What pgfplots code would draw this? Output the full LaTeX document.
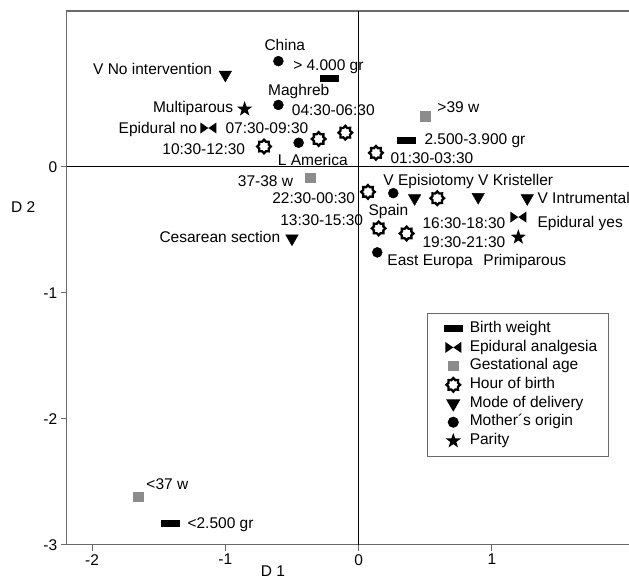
\documentclass[border=0pt]{standalone}
\usepackage{fontspec}
\setmainfont{Liberation Sans}
\usepackage{pgfplots}
\pgfplotsset{compat=1.18}
\definecolor{axgray}{HTML}{6A6A6A}
\definecolor{ptgray}{HTML}{8C8C8C}
\newcommand{\labfont}{\fontsize{15.5}{18}\selectfont}
\pgfdeclareplotmark{hrect}{\pgfpathrectangle{\pgfqpoint{-9.5pt}{-3.5pt}}{\pgfqpoint{19pt}{7pt}}\pgfusepathqfill}
\pgfdeclareplotmark{bowtie}{%
\pgfpathmoveto{\pgfqpoint{-8pt}{5.5pt}}\pgfpathlineto{\pgfqpoint{0pt}{0pt}}\pgfpathlineto{\pgfqpoint{-8pt}{-5.5pt}}\pgfpathclose
\pgfpathmoveto{\pgfqpoint{8pt}{5.5pt}}\pgfpathlineto{\pgfqpoint{0pt}{0pt}}\pgfpathlineto{\pgfqpoint{8pt}{-5.5pt}}\pgfpathclose
\pgfusepathqfill}
\pgfdeclareplotmark{gear}{%
\pgfpathmoveto{\pgfpointpolar{0}{6.8pt}}
\pgfpathlineto{\pgfpointpolar{22.5}{5.1pt}}
\pgfpathlineto{\pgfpointpolar{45}{6.8pt}}
\pgfpathlineto{\pgfpointpolar{67.5}{5.1pt}}
\pgfpathlineto{\pgfpointpolar{90}{6.8pt}}
\pgfpathlineto{\pgfpointpolar{112.5}{5.1pt}}
\pgfpathlineto{\pgfpointpolar{135}{6.8pt}}
\pgfpathlineto{\pgfpointpolar{157.5}{5.1pt}}
\pgfpathlineto{\pgfpointpolar{180}{6.8pt}}
\pgfpathlineto{\pgfpointpolar{202.5}{5.1pt}}
\pgfpathlineto{\pgfpointpolar{225}{6.8pt}}
\pgfpathlineto{\pgfpointpolar{247.5}{5.1pt}}
\pgfpathlineto{\pgfpointpolar{270}{6.8pt}}
\pgfpathlineto{\pgfpointpolar{292.5}{5.1pt}}
\pgfpathlineto{\pgfpointpolar{315}{6.8pt}}
\pgfpathlineto{\pgfpointpolar{337.5}{5.1pt}}
\pgfpathclose
\pgfusepathqfillstroke}
\pgfdeclareplotmark{fstar}{%
\pgfpathmoveto{\pgfpointpolar{90}{8pt}}
\pgfpathlineto{\pgfpointpolar{126}{3.2pt}}
\pgfpathlineto{\pgfpointpolar{162}{8pt}}
\pgfpathlineto{\pgfpointpolar{198}{3.2pt}}
\pgfpathlineto{\pgfpointpolar{234}{8pt}}
\pgfpathlineto{\pgfpointpolar{270}{3.2pt}}
\pgfpathlineto{\pgfpointpolar{306}{8pt}}
\pgfpathlineto{\pgfpointpolar{342}{3.2pt}}
\pgfpathlineto{\pgfpointpolar{18}{8pt}}
\pgfpathlineto{\pgfpointpolar{54}{3.2pt}}
\pgfpathclose
\pgfusepathqfill}
\begin{document}
\begin{tikzpicture}[lbl/.style={inner sep=0pt, text height=11pt, text depth=0pt, font=\labfont}]
\useasboundingbox (-66.7pt,-33.3pt) rectangle (562.3pt,544.7pt);
\begin{axis}[
  x=133.3pt, y=126pt,
  xmin=-2.19, xmax=2.06, ymin=-3, ymax=1.236,
  axis line style={axgray, line width=1.2pt},
  tick style={axgray, line width=1pt},
  tick align=outside, major tick length=6pt,
  xtick pos=bottom, ytick pos=left,
  xtick={-2,-1,0,1}, ytick={-3,-2,-1,0},
  /pgf/number format/assume math mode=true,
  ticklabel style={font=\labfont},
  xlabel={D 1}, ylabel={D 2},
  xlabel style={font=\labfont, at={(axis description cs:0.364,-0.049)}, anchor=center},
  ylabel style={font=\labfont, rotate=-90, at={(axis description cs:-0.077,0.633)}, anchor=center},
  clip=false,
  legend cell align=left,
  legend image code/.code={\path (-17pt,0pt) (13pt,0pt); \draw[#1] plot coordinates {(0pt,0pt)};},
  legend style={at={(axis cs:0.515,-1.161)}, anchor=north west, draw=axgray, line width=1pt,
    font=\labfont, row sep=2.2pt, column sep=0pt, inner xsep=8pt, inner ysep=7pt,
    nodes={font=\labfont, inner ysep=1pt, inner xsep=3pt, text height=11pt, text depth=3.5pt}},
]
\draw[black, line width=0.8pt] (axis cs:-2.19,0) -- (axis cs:2.06,0);
\draw[black, line width=0.8pt] (axis cs:0,-3) -- (axis cs:0,1.236);
% Birth weight
\addplot[only marks, mark=hrect, black] coordinates {(-0.22,0.70) (0.36,0.21) (-1.41,-2.83)};
\addlegendentry{Birth weight}
% Epidural analgesia
\addplot[only marks, mark=bowtie, black] coordinates {(-1.127,0.307) (1.198,-0.40)};
\addlegendentry{Epidural analgesia}
% Gestational age
\addplot[only marks, mark=square*, mark size=4.8pt, mark options={fill=ptgray, draw=ptgray, line width=0pt}] coordinates {(0.50,0.40) (-0.36,-0.09) (-1.65,-2.62)};
\addlegendentry{Gestational age}
% Hour of birth
\addplot[only marks, mark=gear, mark options={fill=white, draw=black, line width=2.3pt}] coordinates {(-0.71,0.16) (-0.30,0.22) (-0.10,0.27) (0.13,0.11) (0.07,-0.20) (0.59,-0.25) (0.15,-0.49) (0.36,-0.53)};
\addlegendentry{Hour of birth}
% Mode of delivery
\addplot[only marks, mark=triangle*, mark size=7.2pt, mark options={rotate=180, fill=black, draw=none}] coordinates {(-1.0,0.73) (0.42,-0.25) (0.897,-0.24) (1.265,-0.25) (-0.50,-0.57)};
\addlegendentry{Mode of delivery}
% Mother's origin
\addplot[only marks, mark=*, mark size=5pt, mark options={fill=black, draw=none}] coordinates {(-0.602,0.838) (-0.602,0.49) (-0.45,0.19) (0.26,-0.21) (0.14,-0.68)};
\addlegendentry{Mother´s origin}
% Parity
\addplot[only marks, mark=fstar, black] coordinates {(-0.855,0.457) (1.198,-0.56)};
\addlegendentry{Parity}
% labels
\node[lbl, anchor=center] at (axis cs:-0.554,0.966) {China};
\node[lbl, anchor=center] at (axis cs:-0.227,0.807) {> 4.000 gr};
\node[lbl, anchor=east] at (axis cs:-1.098,0.775) {V No intervention};
\node[lbl, anchor=center] at (axis cs:-0.449,0.609) {Maghreb};
\node[lbl, anchor=center] at (axis cs:-0.190,0.450) {04:30-06:30};
\node[lbl, anchor=east] at (axis cs:-0.940,0.474) {Multiparous};
\node[lbl, anchor=east] at (axis cs:-1.210,0.307) {Epidural no};
\node[lbl, anchor=west] at (axis cs:-1.000,0.307) {07:30-09:30};
\node[lbl, anchor=east] at (axis cs:-0.850,0.140) {10:30-12:30};
\node[lbl, anchor=center] at (axis cs:-0.344,0.053) {L America};
\node[lbl, anchor=west] at (axis cs:0.590,0.474) {>39 w};
\node[lbl, anchor=west] at (axis cs:0.493,0.220) {2.500-3.900 gr};
\node[lbl, anchor=west] at (axis cs:0.238,0.069) {01:30-03:30};
\node[lbl, anchor=east] at (axis cs:-0.490,-0.113) {37-38 w};
\node[lbl, anchor=east] at (axis cs:-0.025,-0.248) {22:30-00:30};
\node[lbl, anchor=east] at (axis cs:0.035,-0.423) {13:30-15:30};
\node[lbl, anchor=west] at (axis cs:0.073,-0.344) {Spain};
\node[lbl, anchor=west] at (axis cs:0.185,-0.106) {V Episiotomy V Kristeller};
\node[lbl, anchor=west] at (axis cs:1.341,-0.248) {V Intrumental};
\node[lbl, anchor=west] at (axis cs:1.341,-0.439) {Epidural yes};
\node[lbl, anchor=west] at (axis cs:0.478,-0.447) {16:30-18:30};
\node[lbl, anchor=west] at (axis cs:0.478,-0.598) {19:30-21:30};
\node[lbl, anchor=west] at (axis cs:0.215,-0.740) {East Europa};
\node[lbl, anchor=west] at (axis cs:0.935,-0.740) {Primiparous};
\node[lbl, anchor=east] at (axis cs:-0.587,-0.558) {Cesarean section};
\node[lbl, anchor=west] at (axis cs:-1.593,-2.52) {<37 w};
\node[lbl, anchor=west] at (axis cs:-1.285,-2.83) {<2.500 gr};
\end{axis}
\end{tikzpicture}
\end{document}
